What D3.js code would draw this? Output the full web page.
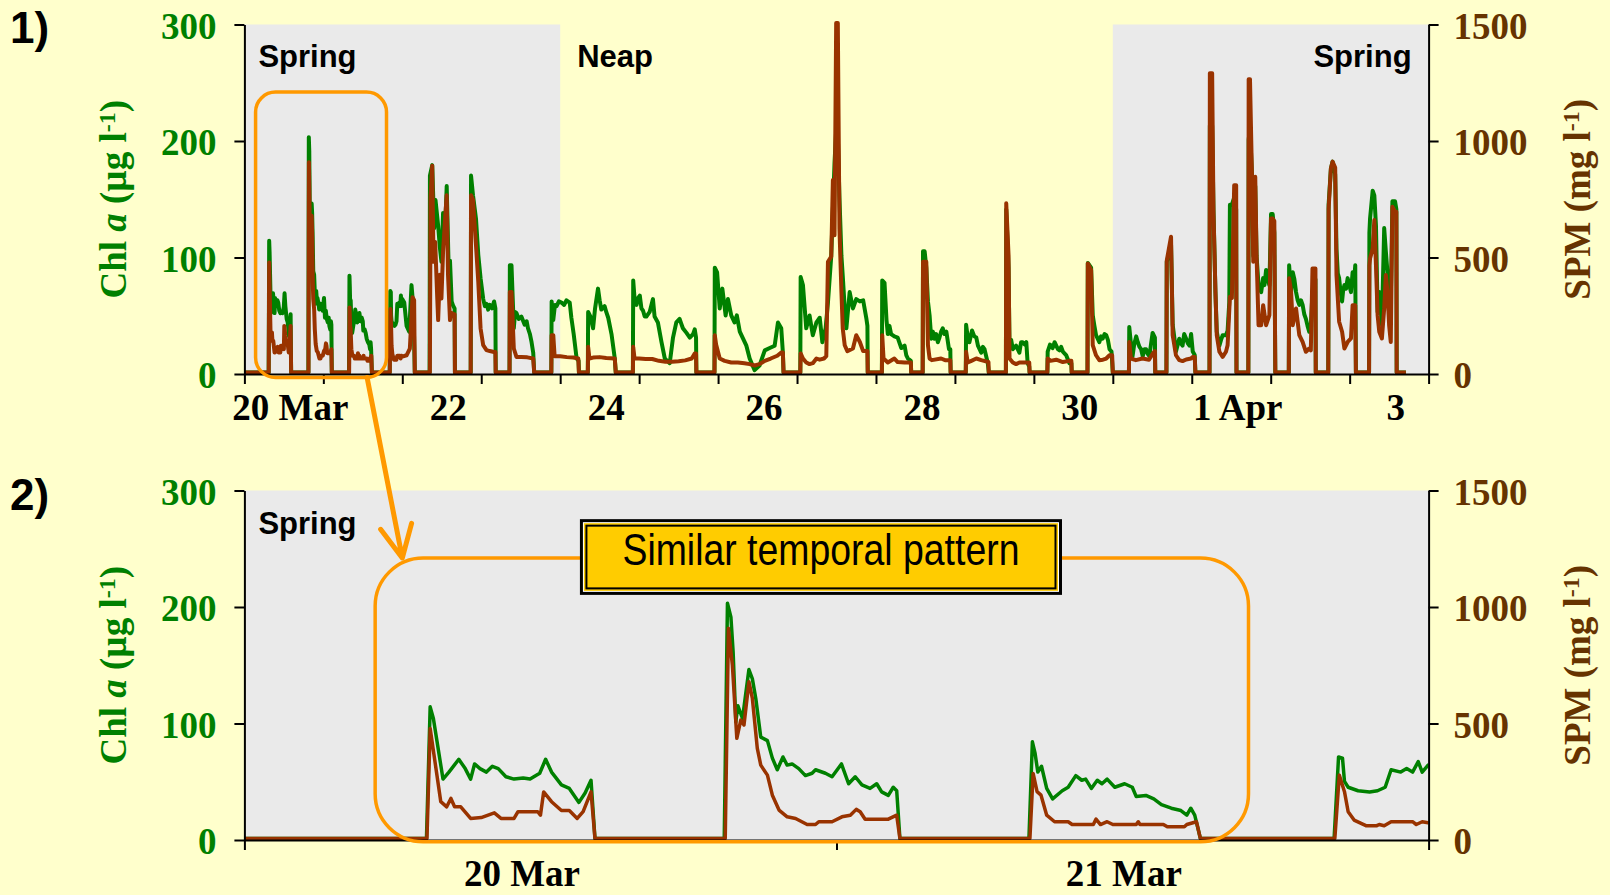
<!DOCTYPE html>
<html>
<head>
<meta charset="utf-8">
<script src="https://cdn.jsdelivr.net/npm/d3@7"></script>
<style>
  html, body { margin: 0; padding: 0; background: #FFFFCC; }
  svg { display: block; }
</style>
</head>
<body>
<svg id="chart" width="1610" height="895"></svg>
<script>
// ---- Data (time in hours since 20 Mar 00:00) ----
const chlTicks = [0, 100, 200, 300];
const spmTicks = [0, 500, 1000, 1500];
const overviewLabels = ["20 Mar", "22", "24", "26", "28", "30", "1 Apr", "3"];
const detailLabels = ["20 Mar", "21 Mar"];
const springPeriods = [[0, 96], [264, 360]];
const overviewRange = [0, 360];
const detailRange = [0, 48];

// Chlorophyll a (µg l-1)
const chlSeries = [
  [0,0],[7.38,0],[7.53,113],[7.66,103],[8.05,51],[8.29,57],[8.69,68],[8.95,60],[9.17,51],[9.33,64],[9.55,60],[9.81,57],[10.05,62],[10.29,60],[10.6,53],[10.93,51],[11.3,52],[11.58,51],[11.97,56],[12.21,68],[12.45,57],[12.85,46],[13.17,43],[13.56,31],[13.81,39],[14.05,50],[14.21,0],
  [19.45,0],[19.58,202],[19.72,190],[19.81,160],[19.92,100],[20.0,114],[20.19,103],[20.45,145],[20.59,137],[20.73,120],[20.93,87],[21.2,84],[21.4,69],[21.6,59],[21.83,70],[22.0,63],[22.2,64],[22.47,60],[22.74,54],[23.01,56],[23.15,59],[23.55,56],[23.82,53],[24.2,64],[24.49,47],[24.76,53],[25.03,46],[25.36,43],[25.63,47],[25.83,40],[26.1,37],[26.3,44],[26.44,41],[26.57,0],
  [31.8,0],[31.94,83],[32.05,73],[32.16,57],[32.31,62],[32.52,43],[32.76,34],[33.15,41],[33.39,44],[33.7,54],[33.94,50],[34.1,51],[34.33,43],[34.57,50],[34.76,47],[34.97,51],[35.28,44],[35.68,47],[35.99,44],[36.15,36],[36.54,37],[36.86,34],[37.17,29],[37.57,26],[37.96,24],[38.2,20],[38.36,26],[38.52,20],[38.75,0],
  [44.17,0],[44.35,70],[44.51,69],[44.59,49],[44.74,44],[45.14,41],[45.61,40],[45.93,41],[46.24,44],[46.48,59],[46.87,57],[47.11,60],[47.35,57],[47.58,66],[47.74,57],[47.98,63],[48.6,60],[49.3,40],[50.1,35],[50.8,75],[51.4,55],[51.8,0],
  [56.3,0],[56.4,169],[57.1,178],[57.7,124],[58.1,148],[58.9,126],[59.4,108],[59.9,95],[60.4,137],[61.0,120],[61.5,160],[62.1,89],[62.5,96],[63.0,61],[63.5,57],[63.9,55],[64.0,0],
  [68.8,0],[68.9,169],[69.5,152],[70.4,132],[71.1,101],[71.8,81],[72.6,63],[73.1,57],[73.6,59],[74.1,54],[74.6,58],[75.3,55],[75.9,61],[76.3,55],[76.4,0],
  [80.6,0],[80.7,92],[81.2,92],[81.9,38],[82.3,52],[82.7,51],[83.4,46],[84.2,48],[85.2,41],[85.8,44],[86.2,38],[86.8,33],[87.3,26],[87.8,17],[88.1,0],
  [93.3,0],[93.4,61],[93.9,45],[94.4,58],[94.9,57],[95.6,61],[96.4,60],[97.2,58],[97.9,62],[98.9,60],[99.4,47],[100.1,33],[101.0,12],[101.6,10],[101.7,0],
  [104.4,0],[104.5,52],[105.2,48],[106.0,38],[106.6,55],[107.5,72],[108.0,62],[108.5,54],[109.5,57],[110.0,52],[110.6,47],[111.6,33],[112.6,12],[112.9,0],
  [118.1,0],[118.2,79],[118.7,60],[119.2,58],[119.7,64],[120.2,66],[120.7,55],[121.2,53],[121.7,48],[122.2,48],[123.2,52],[124.2,63],[124.7,48],[125.7,43],[126.8,26],[127.8,12],[128.5,10],[129.3,8],[130.3,30],[131.3,43],[132.3,46],[132.8,42],[133.3,38],[134.4,34],[135.4,30],[136.4,33],[136.9,37],[137.3,30],[137.4,0],
  [142.9,0],[143.0,90],[143.7,86],[144.5,55],[145.3,72],[146.3,49],[147.0,63],[148.0,49],[149.0,43],[149.7,49],[150.6,35],[151.6,29],[152.6,23],[153.6,12],[155.1,2],[156.6,6],[158.2,19],[159.7,21],[161.2,23],[162.2,43],[163.2,38],[163.7,17],[163.9,0],
  [169.0,0],[169.1,82],[169.8,75],[170.8,38],[171.8,49],[172.8,32],[173.9,43],[174.9,47],[175.7,26],[176.7,38],[177.4,60],[178.4,100],[179.4,180],[180.2,225],[180.9,150],[181.5,100],[181.9,83],[182.5,55],[183.0,38],[184.0,69],[185.0,55],[186.0,63],[187.1,61],[188.1,62],[189.1,46],[189.4,40],[189.5,0],
  [193.8,0],[193.9,79],[194.6,77],[195.2,45],[195.6,33],[196.1,40],[196.6,33],[197.6,31],[198.6,30],[199.2,25],[199.7,21],[200.7,23],[201.2,15],[201.7,12],[202.6,10],[202.7,0],
  [206.2,0],[206.3,104],[206.8,104],[207.3,90],[207.8,61],[208.3,49],[208.8,29],[209.3,35],[209.8,29],[210.3,33],[210.8,26],[211.3,30],[211.8,35],[212.3,38],[212.8,33],[213.4,35],[214.2,20],[214.6,20],[214.7,0],
  [219.3,0],[219.4,41],[219.9,30],[220.4,26],[221.2,36],[221.9,31],[222.5,30],[223.0,23],[224.0,17],[224.5,22],[225.0,20],[225.5,14],[226.0,8],[226.3,0],
  [231.5,0],[231.6,140],[232.3,90],[232.6,23],[233.1,28],[233.6,20],[234.6,23],[235.6,17],[236.1,26],[236.6,26],[237.2,24],[237.7,26],[238.1,8],[238.6,5],[238.7,0],
  [244.1,0],[244.2,18],[244.9,24],[245.7,21],[246.3,26],[246.8,23],[247.3,20],[247.8,19],[248.3,22],[248.8,18],[249.8,15],[250.8,8],[251.4,8],[251.5,0],
  [256.3,0],[256.4,94],[257.4,90],[257.9,49],[258.4,40],[258.9,32],[259.4,29],[259.9,26],[260.4,31],[260.9,29],[261.5,33],[262.0,32],[262.5,28],[263.0,20],[263.6,18],[264.0,0],
  [268.9,0],[269.0,39],[269.5,25],[270.0,14],[270.5,24],[271.1,31],[271.6,26],[272.1,22],[272.6,20],[273.1,14],[273.6,20],[274.1,20],[274.6,16],[275.1,14],[275.6,24],[276.1,34],[276.8,30],[276.9,0],
  [280.3,0],[280.4,95],[280.7,98],[281.7,110],[282.2,41],[282.7,30],[283.2,18],[284.2,29],[284.7,25],[285.2,23],[285.7,33],[286.3,29],[286.8,25],[287.3,23],[287.8,33],[288.3,18],[288.9,15],[289.1,0],
  [293.4,0],[293.5,212],[294.2,212],[294.6,140],[295.2,69],[295.6,35],[296.4,23],[296.9,28],[297.4,32],[298.4,32],[298.9,36],[299.4,60],[299.6,144],[300.2,144],[300.9,150],[301.5,140],[301.6,0],
  [305.2,0],[305.3,200],[305.7,210],[306.3,170],[306.7,100],[307.3,160],[307.7,100],[308.3,75],[309.1,69],[309.7,81],[310.1,75],[310.6,88],[311.1,80],[311.6,75],[312.1,136],[312.6,136],[313.1,120],[313.4,0],
  [317.5,0],[317.6,92],[318.2,69],[318.7,86],[319.2,80],[319.7,69],[320.2,62],[320.7,58],[321.2,62],[321.7,58],[322.2,50],[322.7,46],[323.2,40],[323.7,35],[324.2,40],[324.7,69],[325.2,80],[325.6,80],[325.7,0],
  [329.5,0],[329.6,144],[330.3,175],[330.8,181],[331.6,170],[332.0,106],[332.4,85],[332.8,81],[333.2,70],[333.7,61],[334.0,70],[334.4,75],[334.9,72],[335.4,81],[335.9,75],[336.4,69],[336.9,86],[337.4,80],[337.7,92],[337.9,0],
  [341.9,0],[342.0,120],[342.2,132],[343.0,156],[343.5,152],[344.0,126],[344.5,52],[345.0,69],[345.8,41],[346.5,124],[347.0,104],[347.5,86],[348.0,49],[348.5,60],[349.0,147],[349.8,147],[350.2,140],[350.3,0],[353.1,0]
];

// Suspended particulate matter (mg l-1)
const spmSeries = [
  [0,0],[7.40,0],[7.53,472],[7.96,158],[8.2,136],[8.37,172],[8.52,136],[8.77,136],[9.17,86],[9.6,90],[10.13,110],[10.4,86],[10.93,86],[11.09,115],[11.89,115],[12.0,100],[12.13,200],[12.45,158],[12.85,120],[13.17,120],[13.49,86],[13.73,115],[14.05,200],[14.21,0],
  [19.49,0],[19.62,902],[19.78,744],[19.96,430],[20.12,508],[20.25,487],[20.45,673],[20.59,601],[20.79,387],[20.93,315],[21.2,272],[21.4,186],[21.67,122],[22.0,93],[22.34,86],[22.81,60],[23.15,60],[23.28,72],[23.82,72],[24.22,93],[24.56,100],[24.8,125],[24.96,115],[25.16,83],[26.1,83],[26.44,100],[26.57,0],
  [31.84,0],[31.97,279],[32.13,201],[32.29,186],[32.52,100],[32.84,72],[33.39,72],[33.55,60],[34.41,60],[34.52,83],[34.7,60],[34.97,72],[35.2,60],[36.15,60],[36.23,72],[36.3,60],[37.25,60],[37.41,50],[38.1,50],[38.2,60],[38.59,72],[38.75,0],
  [44.2,0],[44.38,272],[44.59,201],[44.74,115],[44.98,79],[45.46,55],[45.9,55],[46.0,60],[46.2,55],[46.48,72],[47.35,72],[47.5,60],[47.74,72],[47.98,68],[49.3,74],[50.3,103],[51.1,323],[51.6,310],[51.8,0],
  [56.38,0],[56.6,750],[57.09,887],[57.5,475],[58.0,560],[58.6,330],[58.9,225],[59.4,420],[59.9,318],[60.4,520],[61.2,700],[61.5,761],[61.9,420],[62.5,225],[63.0,256],[63.5,250],[63.9,250],[64.0,0],
  [68.8,0],[68.9,761],[69.5,740],[70.4,547],[71.1,389],[71.8,189],[72.6,117],[73.6,96],[74.6,92],[75.9,88],[76.3,88],[76.4,0],
  [80.6,0],[80.7,346],[81.2,346],[81.9,103],[82.7,67],[84.2,67],[86.0,65],[87.8,60],[88.1,0],
  [93.3,0],[93.4,160],[93.9,160],[94.3,70],[96.0,70],[98.0,66],[100.0,64],[101.5,60],[101.7,0],
  [104.4,0],[104.5,110],[104.9,60],[106.0,64],[108.0,66],[110.0,62],[112.6,60],[112.9,0],
  [118.1,0],[118.2,110],[118.6,60],[120.0,60],[122.0,58],[124.0,58],[126.0,50],[128.0,46],[130.0,46],[132.0,48],[134.0,52],[136.0,60],[136.9,82],[137.3,82],[137.4,0],
  [142.9,0],[143.0,160],[143.4,120],[144.5,60],[146.0,50],[148.0,43],[150.0,43],[152.0,40],[153.6,36],[155.1,30],[156.6,36],[158.2,50],[160.0,60],[162.0,72],[163.2,86],[163.7,86],[163.9,0],
  [169.0,0],[169.1,82],[169.8,60],[170.8,43],[171.8,36],[172.8,40],[173.9,60],[174.9,55],[176.2,60],[176.9,70],[177.4,475],[178.4,497],[178.9,826],[179.4,589],[179.9,1500],[180.4,1500],[180.9,618],[181.5,346],[181.9,189],[182.5,117],[183.3,92],[185.0,103],[186.0,160],[187.1,131],[188.1,92],[189.4,92],[189.5,0],
  [193.8,0],[193.9,160],[194.3,60],[195.6,43],[197.6,60],[198.6,45],[200.7,43],[202.6,43],[202.7,0],
  [206.2,0],[206.3,475],[207.3,475],[207.8,117],[208.3,60],[209.0,53],[211.8,60],[213.0,53],[214.6,53],[214.7,0],
  [219.3,0],[219.4,89],[219.9,43],[221.0,50],[222.5,60],[224.0,53],[226.2,45],[226.3,0],
  [231.5,0],[231.6,726],[232.3,504],[232.6,60],[233.6,43],[234.6,36],[235.6,43],[237.7,43],[238.6,43],[238.7,0],
  [244.1,0],[244.2,60],[245.0,50],[246.8,55],[248.8,45],[250.8,50],[251.4,50],[251.5,0],
  [256.3,0],[256.4,468],[257.4,440],[257.9,117],[258.9,74],[259.9,53],[261.0,55],[262.0,60],[263.0,74],[263.8,74],[264.0,0],
  [268.9,0],[269.0,131],[269.5,60],[271.0,53],[273.0,60],[275.0,55],[276.1,80],[276.8,92],[276.9,0],
  [280.3,0],[280.4,480],[281.7,583],[282.2,160],[283.2,74],[284.2,53],[285.2,49],[286.3,56],[287.8,60],[288.3,67],[288.9,67],[289.1,0],
  [293.4,0],[293.5,1284],[294.2,1284],[294.6,690],[295.2,346],[295.6,160],[296.4,89],[297.4,67],[298.4,89],[298.9,117],[299.6,325],[300.2,320],[300.9,804],[301.5,804],[301.6,0],
  [305.2,0],[305.3,1259],[305.7,1259],[306.3,847],[306.7,475],[307.3,840],[307.7,504],[308.3,203],[309.1,203],[309.7,289],[310.6,203],[311.6,246],[312.1,661],[312.6,661],[313.1,650],[313.4,0],
  [317.5,0],[317.6,404],[318.2,346],[318.7,203],[319.7,275],[320.7,160],[321.7,131],[322.7,89],[323.7,103],[324.2,95],[324.7,446],[325.6,446],[325.7,0],
  [329.5,0],[329.6,700],[330.3,876],[330.8,905],[331.6,880],[332.0,418],[332.8,218],[333.7,175],[334.4,103],[335.4,131],[336.4,146],[336.9,289],[337.7,289],[337.9,0],
  [341.9,0],[342.0,460],[342.2,489],[343.0,532],[343.5,654],[344.0,460],[344.5,246],[345.0,175],[345.8,146],[346.5,275],[347.0,418],[347.5,346],[348.0,203],[348.5,131],[349.0,711],[349.8,690],[350.2,690],[350.3,0],[353.1,0]
];

// Highlighted tidal window (hours) and its outline level (µg l-1)
const highlightOverview = { from: 3.4, to: 43.2, top: 242, bottom: -3 };
const highlightDetail = { from: 5.3, to: 40.7, top: 242, bottom: -1.5 };

// ---- Layout ----
const svg = d3.select("#chart");
const PLOT_L = 244.4, PLOT_R = 1428.6;
const GREEN = "#008000", BROWN = "#993300", BROWN_TXT = "#663300";
const ORANGE = "#FF9900", BAND = "#EAEAEA";
const SERIF = "'Liberation Serif','Times New Roman',serif";
const SANS = "'Liberation Sans',Arial,sans-serif";

svg.append("rect").attr("width", 1610).attr("height", 895).attr("fill", "#FFFFCC");

function drawPanel(cfg) {
  const x = d3.scaleLinear().domain(cfg.range).range([PLOT_L, PLOT_R]);
  const yChl = d3.scaleLinear().domain([0, 300]).range([cfg.bottom, cfg.top]);
  const ySpm = d3.scaleLinear().domain([0, 1500]).range([cfg.bottom, cfg.top]);
  const g = svg.append("g");

  // spring-tide shading
  const bands = springPeriods
    .map(([a, b]) => [Math.max(a, cfg.range[0]), Math.min(b, cfg.range[1])])
    .filter(([a, b]) => b > a);
  g.selectAll("rect.band").data(bands).join("rect")
    .attr("class", "band")
    .attr("x", d => x(d[0])).attr("width", d => x(d[1]) - x(d[0]))
    .attr("y", yChl(300)).attr("height", yChl(0) - yChl(300))
    .attr("fill", BAND);

  // tide labels
  g.selectAll("text.tide").data(cfg.tideLabels).join("text")
    .attr("class", "tide")
    .attr("x", d => x(d.at) + d.dx)
    .attr("y", cfg.top + cfg.tideBaseline)
    .attr("text-anchor", d => d.anchor)
    .attr("font-family", SANS).attr("font-weight", "bold").attr("font-size", 31)
    .attr("fill", "#000")
    .text(d => d.text);

  // series
  const clipId = "clip" + cfg.id;
  svg.append("clipPath").attr("id", clipId).append("rect")
    .attr("x", PLOT_L).attr("width", PLOT_R - PLOT_L)
    .attr("y", cfg.top - 20).attr("height", cfg.bottom - cfg.top + 40);
  const inRange = s => {
    const i0 = Math.max(0, d3.bisector(d => d[0]).left(s, cfg.range[0]) - 1);
    const i1 = Math.min(s.length, d3.bisector(d => d[0]).right(s, cfg.range[1]) + 1);
    return s.slice(i0, i1);
  };
  const lines = g.append("g").attr("clip-path", `url(#${clipId})`)
    .attr("transform", "translate(0,-1.5)");
  lines.append("path")
    .attr("d", d3.line().x(d => x(d[0])).y(d => yChl(d[1]))(inRange(chlSeries)))
    .attr("fill", "none").attr("stroke", GREEN).attr("stroke-width", cfg.lineWidth)
    .attr("stroke-linejoin", "round");
  lines.append("path")
    .attr("d", d3.line().x(d => x(d[0])).y(d => ySpm(d[1]))(inRange(spmSeries)))
    .attr("fill", "none").attr("stroke", BROWN).attr("stroke-width", cfg.lineWidth)
    .attr("stroke-linejoin", "round");

  // axes
  const styleAxis = sel => {
    sel.selectAll("path.domain").attr("stroke", "#000").attr("stroke-width", 2);
    sel.selectAll(".tick line").attr("stroke", "#000").attr("stroke-width", 2);
  };
  const dayTicks = d3.range(cfg.range[0], cfg.range[1] + 1, 24);
  g.append("g").attr("transform", `translate(0,${cfg.bottom})`)
    .call(d3.axisBottom(x).tickValues(dayTicks).tickSize(10).tickSizeOuter(0).tickFormat(""))
    .call(styleAxis);

  const labelHours = cfg.labels.map((_, i) => cfg.range[0] + 12 + i * cfg.labelStep);
  const lab = g.append("g").attr("transform", `translate(${cfg.labelDx},${cfg.bottom})`)
    .call(d3.axisBottom(x).tickValues(labelHours).tickSize(0).tickPadding(cfg.labelPad)
      .tickFormat((d, i) => cfg.labels[i]));
  lab.select("path.domain").remove();
  lab.selectAll("text").attr("font-family", SERIF).attr("font-weight", "bold")
    .attr("font-size", 37).attr("fill", "#000");

  const left = g.append("g").attr("transform", `translate(${PLOT_L},0)`)
    .call(d3.axisLeft(yChl).tickValues(chlTicks).tickSize(10).tickSizeOuter(0).tickPadding(18)
      .tickFormat(d3.format("d")))
    .call(styleAxis);
  left.selectAll("text").attr("font-family", SERIF).attr("font-weight", "bold")
    .attr("font-size", 37).attr("fill", GREEN).attr("dy", "0.37em");

  const right = g.append("g").attr("transform", `translate(${PLOT_R},0)`)
    .call(d3.axisRight(ySpm).tickValues(spmTicks).tickSize(10).tickSizeOuter(0).tickPadding(15)
      .tickFormat(d3.format("d")))
    .call(styleAxis);
  right.selectAll("text").attr("font-family", SERIF).attr("font-weight", "bold")
    .attr("font-size", 37).attr("fill", BROWN_TXT).attr("dy", "0.37em");

  // axis titles
  const midY = (cfg.top + cfg.bottom) / 2;
  const tl = g.append("text")
    .attr("transform", `translate(126,${midY}) rotate(-90)`)
    .attr("text-anchor", "middle").attr("font-family", SERIF).attr("font-weight", "bold")
    .attr("font-size", 37).attr("fill", GREEN);
  tl.append("tspan").text("Chl ");
  tl.append("tspan").attr("font-style", "italic").text("a");
  tl.append("tspan").text(" (µg l");
  tl.append("tspan").attr("font-size", 24).attr("dy", -11).text("-1");
  tl.append("tspan").attr("dy", 11).text(")");

  const tr = g.append("text")
    .attr("transform", `translate(1590,${midY}) rotate(-90)`)
    .attr("text-anchor", "middle").attr("font-family", SERIF).attr("font-weight", "bold")
    .attr("font-size", 37).attr("fill", BROWN_TXT);
  tr.append("tspan").text("SPM (mg l");
  tr.append("tspan").attr("font-size", 24).attr("dy", -11).text("-1");
  tr.append("tspan").attr("dy", 11).text(")");

  // panel number
  g.append("text").attr("x", 10).attr("y", cfg.numberBaseline)
    .attr("font-family", SANS).attr("font-weight", "bold").attr("font-size", 44)
    .attr("fill", "#000").text(cfg.number);

  return { x, yChl };
}

const overviewPanel = drawPanel({
  id: 1, range: overviewRange, top: 24.5, bottom: 374, lineWidth: 4,
  labels: overviewLabels, labelStep: 48, labelDx: 6, labelPad: 20,
  tideBaseline: 42.5, number: "1)", numberBaseline: 43,
  tideLabels: [
    { text: "Spring", at: springPeriods[0][0], dx: 14, anchor: "start" },
    { text: "Neap", at: springPeriods[0][1], dx: 17, anchor: "start" },
    { text: "Spring", at: springPeriods[1][1], dx: -17, anchor: "end" }
  ]
});

const detailPanel = drawPanel({
  id: 2, range: detailRange, top: 490.5, bottom: 840, lineWidth: 3.5,
  labels: detailLabels, labelStep: 24.4, labelDx: -19, labelPad: 20,
  tideBaseline: 43.5, number: "2)", numberBaseline: 510,
  tideLabels: [
    { text: "Spring", at: detailRange[0], dx: 14, anchor: "start" }
  ]
});

// ---- Annotations ----
const ann = svg.append("g");
const outline = (p, h, r) => ann.append("rect")
  .attr("x", p.x(h.from)).attr("y", p.yChl(h.top))
  .attr("width", p.x(h.to) - p.x(h.from))
  .attr("height", p.yChl(h.bottom) - p.yChl(h.top))
  .attr("rx", r).attr("ry", r)
  .attr("fill", "none").attr("stroke", ORANGE).attr("stroke-width", 3.5);
outline(overviewPanel, highlightOverview, 20);
outline(detailPanel, highlightDetail, 48);

// arrow linking the two windows
const a0 = [overviewPanel.x(37.3), overviewPanel.yChl(highlightOverview.bottom)];
const a1 = [detailPanel.x(6.4), detailPanel.yChl(highlightDetail.top)];
const ang = Math.atan2(a1[1] - a0[1], a1[0] - a0[0]);
const headLen = 36, headAng = 26 * Math.PI / 180;
const arm = s => [a1[0] - headLen * Math.cos(ang + s * headAng), a1[1] - headLen * Math.sin(ang + s * headAng)];
ann.append("path")
  .attr("d", d3.line()([a0, a1]) + d3.line()([arm(1), a1, arm(-1)]))
  .attr("fill", "none").attr("stroke", ORANGE).attr("stroke-width", 5)
  .attr("stroke-linejoin", "round").attr("stroke-linecap", "round");

// caption box
const bx0 = detailPanel.x(13.6), bx1 = detailPanel.x(33.14);
const by0 = detailPanel.yChl(275.4), by1 = detailPanel.yChl(210.4);
const layers = [[0, "#000"], [3, "#FFFFFF"], [4, "#FFCC00"], [5.5, "#000"], [7.5, "#FFCC00"]];
ann.selectAll("rect.cap").data(layers).join("rect")
  .attr("class", "cap")
  .attr("x", d => bx0 + d[0]).attr("y", d => by0 + d[0])
  .attr("width", d => bx1 - bx0 - 2 * d[0]).attr("height", d => by1 - by0 - 2 * d[0])
  .attr("fill", d => d[1]);
ann.append("text")
  .attr("x", (bx0 + bx1) / 2).attr("y", by0 + 46)
  .attr("text-anchor", "middle")
  .attr("font-family", "'Liberation Sans Narrow','Arial Narrow','Liberation Sans',sans-serif")
  .attr("font-size", 44).attr("fill", "#000")
  .attr("textLength", 397).attr("lengthAdjust", "spacingAndGlyphs")
  .text("Similar temporal pattern");
</script>
</body>
</html>
